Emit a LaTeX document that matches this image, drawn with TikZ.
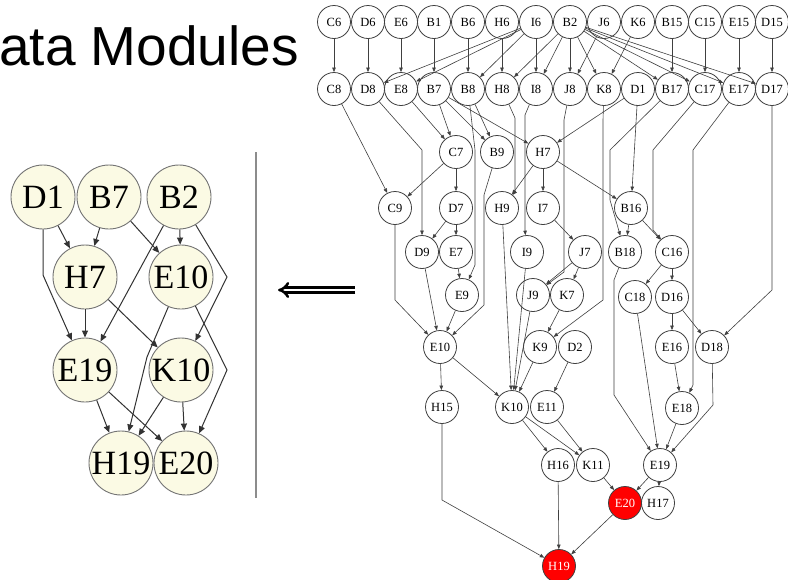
\documentclass[tikz,border=0pt]{standalone}
\usepackage{fontspec}
\setmainfont{Liberation Serif}
\newfontfamily\titlefont{Liberation Sans}
\usetikzlibrary{arrows.meta}
\definecolor{cream}{RGB}{251,250,228}
\begin{document}
\begin{tikzpicture}[x=1pt,y=-1pt,
  rn/.style={circle, draw=black!75, line width=0.8pt, minimum size=33pt, inner sep=0pt, font=\fontsize{12.5}{13}\selectfont},
  hot/.style={rn, fill=red, text=white},
  re/.style={draw=black!75, line width=0.6pt, -{Triangle[length=4.5pt,width=3.5pt]}},
  ln/.style={circle, draw=black!55, line width=0.9pt, fill=cream, minimum size=64pt, inner sep=0pt, font=\fontsize{34}{36}\selectfont},
  le/.style={draw=black!80, line width=1pt, -{Triangle[length=7pt,width=6pt]}},
]
\useasboundingbox (0,0) rectangle (788,579);
\fill[white] (0,0) rectangle (788,579);

% title
\node[anchor=base west, inner sep=0pt, font=\titlefont\fontsize{55}{60}\selectfont] (title) at (-1,65) {ata Modules};

% separator and double arrow
\coordinate (sT) at (256,152);
\coordinate (sB) at (256,498);
\draw[black!45, line width=1.3pt] (sT) -- (sB);
\coordinate (dR) at (355,290);
\coordinate (dL) at (278,290);
\draw[line width=2.5pt, double distance=2.6pt, -{Implies}] (dR) -- (dL);

% ---------- left graph ----------
\node[ln] (lD1) at (43,197) {D1};
\node[ln] (lB7) at (109,197) {B7};
\node[ln] (lB2) at (179,197) {B2};
\node[ln] (lH7) at (85,277) {H7};
\node[ln] (lE10) at (181,277) {E10};
\node[ln] (lE19) at (85,370) {E19};
\node[ln] (lK10) at (181,370) {K10};
\node[ln] (lH19) at (121,463) {H19};
\node[ln] (lE20) at (186,463) {E20};

\draw[le] (lD1) -- (lH7);
\draw[le] (lD1) -- (43,275) -- (lE19);
\draw[le] (lB7) -- (lH7);
\draw[le] (lB7) -- (lE10);
\draw[le] (lB2) -- (lE10);
\draw[le] (lB2) -- (lE19);
\draw[le] (lB2) -- (227,277) -- (lK10);
\draw[le] (lH7) -- (lE19);
\draw[le] (lH7) -- (lK10);
\draw[le] (lE10) -- (147,357) -- (lH19);
\draw[le] (lE10) -- (227,370) -- (lE20);
\draw[le] (lE19) -- (lH19);
\draw[le] (lE19) -- (lE20);
\draw[le] (lK10) -- (lH19);
\draw[le] (lK10) -- (lE20);

% ---------- right graph ----------
% row 1
\node[rn] (rC6) at (334,22) {C6};
\node[rn] (rD6) at (368,22) {D6};
\node[rn] (rE6) at (401,22) {E6};
\node[rn] (rB1) at (434,22) {B1};
\node[rn] (rB6) at (468,22) {B6};
\node[rn] (rH6) at (502,22) {H6};
\node[rn] (rI6) at (536,22) {I6};
\node[rn] (rB2) at (570,22) {B2};
\node[rn] (rJ6) at (604,22) {J6};
\node[rn] (rK6) at (638,22) {K6};
\node[rn] (rB15) at (672,22) {B15};
\node[rn] (rC15) at (705,22) {C15};
\node[rn] (rE15) at (739,22) {E15};
\node[rn] (rD15) at (772,22) {D15};
% row 2
\node[rn] (rC8) at (334,89) {C8};
\node[rn] (rD8) at (368,89) {D8};
\node[rn] (rE8) at (401,89) {E8};
\node[rn] (rB7) at (434,89) {B7};
\node[rn] (rB8) at (468,89) {B8};
\node[rn] (rH8) at (502,89) {H8};
\node[rn] (rI8) at (536,89) {I8};
\node[rn] (rJ8) at (570,89) {J8};
\node[rn] (rK8) at (604,89) {K8};
\node[rn] (rD1) at (638,89) {D1};
\node[rn] (rB17) at (672,89) {B17};
\node[rn] (rC17) at (705,89) {C17};
\node[rn] (rE17) at (739,89) {E17};
\node[rn] (rD17) at (772,89) {D17};
% row 3
\node[rn] (rC7) at (456,152) {C7};
\node[rn] (rB9) at (497,152) {B9};
\node[rn] (rH7) at (543,152) {H7};
% row 4
\node[rn] (rC9) at (395,208) {C9};
\node[rn] (rD7) at (456,208) {D7};
\node[rn] (rH9) at (502,208) {H9};
\node[rn] (rI7) at (543,208) {I7};
\node[rn] (rB16) at (631,208) {B16};
% row 5
\node[rn] (rD9) at (422,252) {D9};
\node[rn] (rE7) at (456,252) {E7};
\node[rn] (rI9) at (527,252) {I9};
\node[rn] (rJ7) at (585,252) {J7};
\node[rn] (rB18) at (625,252) {B18};
\node[rn] (rC16) at (672,252) {C16};
% row 6
\node[rn] (rE9) at (462,295) {E9};
\node[rn] (rJ9) at (533,295) {J9};
\node[rn] (rK7) at (567,295) {K7};
\node[rn] (rC18) at (635,297) {C18};
\node[rn] (rD16) at (672,297) {D16};
% row 7
\node[rn] (rE10) at (440,347) {E10};
\node[rn] (rK9) at (540,347) {K9};
\node[rn] (rD2) at (575,347) {D2};
\node[rn] (rE16) at (672,347) {E16};
\node[rn] (rD18) at (712,347) {D18};
% row 8
\node[rn] (rH15) at (442,407) {H15};
\node[rn] (rK10) at (512,407) {K10};
\node[rn] (rE11) at (547,407) {E11};
\node[rn] (rE18) at (682,408) {E18};
% row 9
\node[rn] (rH16) at (558,465) {H16};
\node[rn] (rK11) at (593,465) {K11};
\node[rn] (rE19) at (660,465) {E19};
% row 10
\node[hot] (rE20) at (625,503) {E20};
\node[rn] (rH17) at (658,503) {H17};
% row 11
\node[hot] (rH19) at (559,566) {H19};

% row1 -> row2
\draw[re] (rC6) -- (rC8);
\draw[re] (rD6) -- (rD8);
\draw[re] (rE6) -- (rE8);
\draw[re] (rB1) -- (rB7);
\draw[re] (rB6) -- (rB8);
\draw[re] (rH6) -- (rH8);
\draw[re] (rI6) -- (rI8);
\draw[re] (rI6) -- (rD8);
\draw[re] (rI6) -- (rE8);
\draw[re] (rI6) -- (rB8);
\draw[re] (rB2) -- (rH8);
\draw[re] (rB2) -- (rI8);
\draw[re] (rB2) -- (rJ8);
\draw[re] (rB2) -- (rK8);
\draw[re] (rJ6) -- (rJ8);
\draw[re] (rK6) -- (rK8);
\draw[re] (rB2) -- (rB17);
\draw[re] (rB2) -- (rC17);
\draw[re] (rB2) -- (rE17);
\draw[re] (rB2) -- (rD17);
\draw[re] (rB15) -- (rB17);
\draw[re] (rC15) -- (rC17);
\draw[re] (rE15) -- (rE17);
\draw[re] (rD15) -- (rD17);

% row2 -> lower
\draw[re] (rC8) -- (rC9);
\draw[re] (rD8) -- (422,150) -- (rD9);
\draw[re] (rE8) -- (rC7);
\draw[re] (rB7) -- (rC7);
\draw[re] (rB7) -- (rB9);
\draw[re] (rB8) -- (rB9);
\draw[re] (rB7) -- (rH7);
\draw[re] (rB8) -- (475,150) -- (475,265) -- (rE9);
\draw[re] (rH8) -- (515,118) -- (515,192) -- (rH9);
\draw[re] (rI8) -- (525,115) -- (525,230) -- (rI9);
\draw[re] (rJ8) -- (564,120) -- (564,272) -- (rJ9);
\draw[re] (rK8) -- (603,120) -- (603,300) -- (rK9);
\draw[re] (rD1) -- (rH7);
\draw[re] (rD1) -- (rB16);
\draw[re] (rB17) -- (610,150) -- (610,200) -- (rB18);
\draw[re] (rC17) -- (653,150) -- (653,230) -- (rC16);
\draw[re] (rE17) -- (693,150) -- (693,385) -- (rE18);
\draw[re] (rD17) -- (772,290) -- (rD18);

% middle
\draw[re] (rC7) -- (rC9);
\draw[re] (rC7) -- (rD7);
\draw[re] (rB9) -- (484,195) -- (484,305) -- (rE10);
\draw[re] (rH7) -- (rH9);
\draw[re] (rH7) -- (rI7);
\draw[re] (rH7) -- (rB16);
\draw[re] (rC9) -- (395,300) -- (rE10);
\draw[re] (rD7) -- (rD9);
\draw[re] (rD7) -- (rE7);
\draw[re] (rD9) -- (rE10);
\draw[re] (rE7) -- (rE9);
\draw[re] (rE9) -- (rE10);
\draw[re] (rH9) -- (rK10);
\draw[re] (rI7) -- (rJ7);
\draw[re] (rI9) -- (rK10);
\draw[re] (rJ7) -- (rJ9);
\draw[re] (rJ7) -- (rK7);
\draw[re] (rJ9) -- (rK10);
\draw[re] (rK7) -- (rK9);
\draw[re] (rK9) -- (rK10);
\draw[re] (rE10) -- (rK10);
\draw[re] (rE10) -- (rH15);
\draw[re] (rD2) -- (rE11);
\draw[re] (rB16) -- (rB18);
\draw[re] (rB16) -- (rC16);
\draw[re] (rC16) -- (rC18);
\draw[re] (rC16) -- (rD16);
\draw[re] (rD16) -- (rE16);
\draw[re] (rD16) -- (rD18);
\draw[re] (rE16) -- (rE18);
\draw[re] (rB18) -- (614,280) -- (614,395) -- (rE19);
\draw[re] (rC18) -- (rE19);
\draw[re] (rD18) -- (713,405) -- (rE19);
\draw[re] (rE18) -- (rE19);

% bottom
\draw[re] (rH15) -- (442,500) -- (rH19);
\draw[re] (rK10) -- (rH16);
\draw[re] (rK10) -- (rK11);
\draw[re] (rE11) -- (rK11);
\draw[re] (rH16) -- (rH19);
\draw[re] (rK11) -- (rE20);
\draw[re] (rE19) -- (rE20);
\draw[re] (rE19) -- (rH17);
\draw[re] (rE20) -- (rH19);
\end{tikzpicture}
\end{document}
